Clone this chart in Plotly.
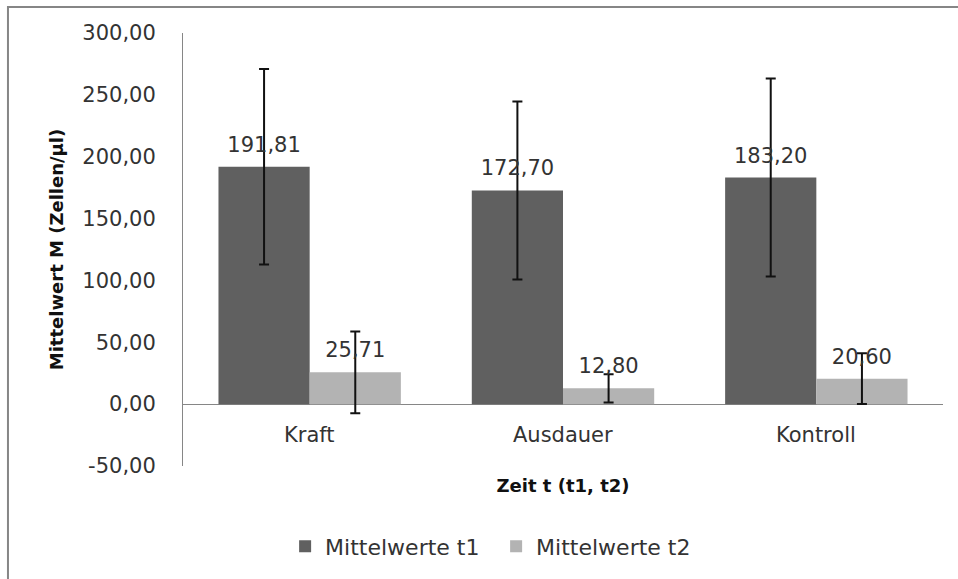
import plotly.graph_objects as go

categories = ["Kraft", "Ausdauer", "Kontroll"]
series_names = ["Mittelwerte t1", "Mittelwerte t2"]
t1_values = [191.81, 172.70, 183.20]
t2_values = [25.71, 12.80, 20.60]
t1_errors = [79.0, 72.0, 80.0]
t2_errors = [33.0, 11.4, 20.5]
y_ticks = [-50, 0, 50, 100, 150, 200, 250, 300]

FONT = "DejaVu Sans"
TXT = "#333333"
DARK = "#606060"
LIGHT = "#b3b3b3"
GRAY = "#868686"
FS = 21


def de(v):
    return f"{v:.2f}".replace(".", ",")


fig = go.Figure()

for name, vals, errs, col, grp in [
    (series_names[0], t1_values, t1_errors, DARK, "a"),
    (series_names[1], t2_values, t2_errors, LIGHT, "b"),
]:
    fig.add_trace(go.Bar(
        x=categories, y=vals, name=name, offsetgroup=grp,
        marker=dict(color=col, line=dict(width=0)),
        error_y=dict(type="data", array=errs, visible=True,
                     color="#111111", thickness=2, width=5),
    ))

for vals, grp in [(t1_values, "a"), (t2_values, "b")]:
    fig.add_trace(go.Scatter(
        x=categories, y=vals, offsetgroup=grp, mode="markers+text",
        marker=dict(size=14, color="rgba(0,0,0,0)"),
        text=[de(v) for v in vals],
        textposition="top center",
        textfont=dict(family=FONT, size=FS, color=TXT),
        showlegend=False, hoverinfo="skip",
    ))

for c in categories:
    fig.add_annotation(x=c, y=0, xref="x", yref="y", text=c, showarrow=False,
                       yanchor="middle", yshift=-31,
                       font=dict(family=FONT, size=FS, color=TXT))

fig.add_shape(type="rect", xref="paper", yref="paper",
              x0=-0.2303, y0=1.0598, x1=1.5, y1=-0.5,
              line=dict(color=GRAY, width=2), layer="below")

fig.update_layout(
    width=958, height=579,
    margin=dict(l=183, r=15, t=33, b=111),
    paper_bgcolor="white", plot_bgcolor="white",
    barmode="group", bargap=0.28, bargroupgap=0,
    scattermode="group", scattergap=0.28,
    separators=",.",
    font=dict(family=FONT, size=FS, color=TXT),
    showlegend=True,
    legend=dict(orientation="h", x=0.412, xanchor="center", y=-0.186,
                yanchor="middle", font=dict(family=FONT, size=22, color=TXT),
                traceorder="normal", entrywidth=166, entrywidthmode="pixels"),
    xaxis=dict(showticklabels=False, showline=False, showgrid=False, ticks="",
               title=dict(text="<b>Zeit t (t1, t2)</b>", standoff=13,
                          font=dict(family=FONT, size=18, color="#111111"))),
    yaxis=dict(range=[-50, 300], tickvals=y_ticks,
               ticktext=[de(v) for v in y_ticks],
               showgrid=False, showline=True, linecolor=GRAY, linewidth=1,
               zeroline=True, zerolinecolor=GRAY, zerolinewidth=1,
               ticks="", ticklabelstandoff=22,
               tickfont=dict(family=FONT, size=FS, color=TXT),
               title=dict(text="<b>Mittelwert M (Zellen/µl)</b>", standoff=14,
                          font=dict(family=FONT, size=18, color="#111111"))),
)

fig.write_html("out.html", config={"displayModeBar": False},
               post_script="document.body.style.margin='0';document.body.style.overflow='hidden';")
